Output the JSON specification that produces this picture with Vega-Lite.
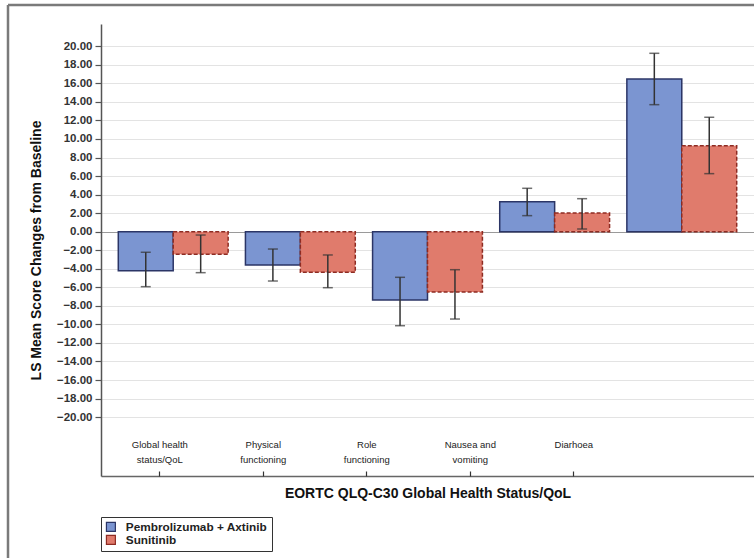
{
  "$schema": "https://vega.github.io/schema/vega-lite/v6.json",
  "width": 746,
  "height": 553,
  "autosize": {"type": "none"},
  "padding": {"left": 8, "top": 5, "right": 0, "bottom": 0},
  "background": "white",
  "config": {
    "font": "Liberation Sans",
    "view": {"stroke": "#7a7a7a", "strokeWidth": 2.5, "strokeDash": [746, 1299, 553, 0]}
  },
  "data": {
    "values": [
      {"category": "Global health status/QoL", "treatment": "Pembrolizumab + Axtinib", "mean": -4.2, "lower": -5.93, "upper": -2.22},
      {"category": "Global health status/QoL", "treatment": "Sunitinib", "mean": -2.44, "lower": -4.42, "upper": -0.36},
      {"category": "Physical functioning", "treatment": "Pembrolizumab + Axtinib", "mean": -3.59, "lower": -5.32, "upper": -1.87},
      {"category": "Physical functioning", "treatment": "Sunitinib", "mean": -4.38, "lower": -6.04, "upper": -2.51},
      {"category": "Role functioning", "treatment": "Pembrolizumab + Axtinib", "mean": -7.37, "lower": -10.14, "upper": -4.92},
      {"category": "Role functioning", "treatment": "Sunitinib", "mean": -6.5, "lower": -9.42, "upper": -4.1},
      {"category": "Nausea and vomiting", "treatment": "Pembrolizumab + Axtinib", "mean": 3.24, "lower": 1.73, "upper": 4.68},
      {"category": "Nausea and vomiting", "treatment": "Sunitinib", "mean": 2.02, "lower": 0.29, "upper": 3.56},
      {"category": "Diarhoea", "treatment": "Pembrolizumab + Axtinib", "mean": 16.47, "lower": 13.7, "upper": 19.24},
      {"category": "Diarhoea", "treatment": "Sunitinib", "mean": 9.28, "lower": 6.26, "upper": 12.34}
    ]
  },
  "resolve": {"scale": {"x": "independent"}, "axis": {"x": "independent"}},
  "layer": [
    {
      "encoding": {
        "x": {
          "field": "category", "type": "nominal",
          "sort": ["Global health status/QoL", "Physical functioning", "Role functioning", "Nausea and vomiting", "Diarhoea"],
          "scale": {"range": [93, 746], "paddingInner": 0.136, "paddingOuter": 0.136},
          "axis": {
            "orient": "bottom",
            "labels": false, "ticks": false, "domain": true, "domainColor": "#666", "domainWidth": 1.5,
            "offset": -82, "grid": false,
            "title": "EORTC QLQ-C30 Global Health Status/QoL",
            "titleFontSize": 14, "titleFontWeight": "bold", "titleColor": "#111", "titlePadding": 10
          }
        },
        "xOffset": {"field": "treatment", "type": "nominal"}
      },
      "layer": [
        {
          "mark": {"type": "bar", "strokeWidth": 1.5},
          "encoding": {
            "y": {
              "field": "mean", "type": "quantitative",
              "title": "LS Mean Score Changes from Baseline",
              "scale": {"domain": [-26.35, 22.4], "range": [471, 19], "nice": false, "zero": false},
              "axis": {
                "offset": -93, "tickCount": 24, "format": ".2f",
                "labelExpr": "abs(datum.value) <= 20 ? datum.label : ''",
                "labelOverlap": false, "labelBound": false,
                "labelFontSize": 11.5, "labelFontWeight": "bold", "labelColor": "#333", "labelPadding": 3,
                "tickSize": 6, "tickColor": "#555", "tickWidth": 1.2,
                "tickOpacity": {"condition": {"test": "abs(datum.value) > 20", "value": 0}, "value": 1},
                "domainColor": "#555", "domainWidth": 1.5,
                "titleFontSize": 14, "titleFontWeight": "bold", "titleColor": "#111", "titlePadding": 13,
                "grid": true, "gridWidth": 1.2,
                "gridColor": {"condition": {"test": "datum.value === 0", "value": "#9a9a9a"}, "value": "#e3e3e3"},
                "gridOpacity": {"condition": {"test": "abs(datum.value) > 20", "value": 0}, "value": 1}
              }
            },
            "fill": {
              "field": "treatment", "type": "nominal",
              "scale": {"range": ["#7B95D1", "#E07B6C"]},
              "legend": {
                "orient": "none", "legendX": 93, "legendY": 512, "title": null, "direction": "vertical",
                "symbolType": "square", "symbolSize": 80, "symbolStrokeWidth": 1.2,
                "labelFontSize": 11.8, "labelFontWeight": "bold", "labelColor": "#222", "labelOffset": 9,
                "strokeColor": "#333", "padding": 4, "rowPadding": -6
              }
            },
            "stroke": {"field": "treatment", "type": "nominal", "scale": {"range": ["#2B3566", "#8E2B22"]}},
            "strokeDash": {"condition": {"test": "datum.treatment === 'Sunitinib'", "value": [4, 2]}, "value": [1, 0]}
          }
        },
        {
          "mark": {"type": "rule", "color": "#333", "strokeWidth": 1.5},
          "encoding": {
            "y": {"field": "lower", "type": "quantitative", "title": "LS Mean Score Changes from Baseline"},
            "y2": {"field": "upper"}
          }
        },
        {
          "mark": {"type": "tick", "color": "#333", "size": 10, "thickness": 1.5},
          "encoding": {
            "y": {"field": "lower", "type": "quantitative", "title": "LS Mean Score Changes from Baseline"}
          }
        },
        {
          "mark": {"type": "tick", "color": "#333", "size": 10, "thickness": 1.5},
          "encoding": {
            "y": {"field": "upper", "type": "quantitative", "title": "LS Mean Score Changes from Baseline"}
          }
        }
      ]
    },
    {
      "mark": {"type": "point", "opacity": 0},
      "encoding": {
        "x": {
          "field": "category", "type": "nominal",
          "sort": ["Global health status/QoL", "Physical functioning", "Role functioning", "Nausea and vomiting", "Diarhoea"],
          "scale": {"type": "point", "range": [151.3, 565.3], "padding": 0},
          "axis": {
            "orient": "bottom",
            "offset": -82, "domain": false, "grid": false,
            "ticks": true, "tickSize": -5, "tickColor": "#333", "tickWidth": 1.2,
            "labelPadding": -32, "labelAngle": 0, "labelFontSize": 9.5, "labelColor": "#222",
            "labelLineHeight": 15, "labelOverlap": false, "labelBound": false, "labelLimit": 0,
            "labelExpr": "lastindexof(datum.label, ' ') > 0 ? [slice(datum.label, 0, lastindexof(datum.label, ' ')), slice(datum.label, lastindexof(datum.label, ' ') + 1)] : datum.label",
            "title": null
          }
        }
      }
    }
  ]
}
